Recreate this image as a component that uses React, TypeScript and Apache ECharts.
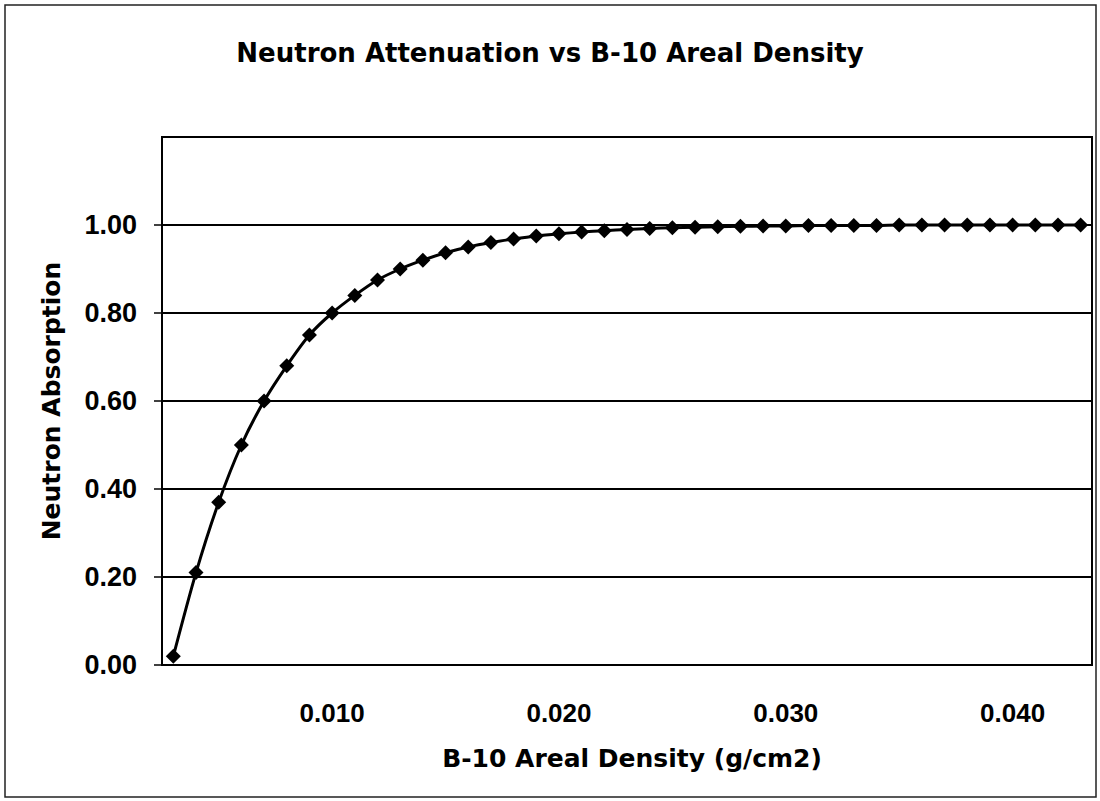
import React, { useEffect, useRef } from "react";
import * as echarts from "echarts";

const TITLE = "Neutron Attenuation vs B-10 Areal Density";
const X_NAME = "B-10 Areal Density (g/cm2)";
const Y_NAME = "Neutron Absorption";

const categories: string[] = [
  "0.003", "0.004", "0.005", "0.006", "0.007", "0.008", "0.009", "0.010",
  "0.011", "0.012", "0.013", "0.014", "0.015", "0.016", "0.017", "0.018",
  "0.019", "0.020", "0.021", "0.022", "0.023", "0.024", "0.025", "0.026",
  "0.027", "0.028", "0.029", "0.030", "0.031", "0.032", "0.033", "0.034",
  "0.035", "0.036", "0.037", "0.038", "0.039", "0.040", "0.041", "0.042",
  "0.043",
];

const absorption: number[] = [
  0.02, 0.21, 0.37, 0.5, 0.6, 0.68, 0.75, 0.8,
  0.84, 0.875, 0.9, 0.92, 0.937, 0.95, 0.96, 0.968,
  0.975, 0.98, 0.984, 0.987, 0.99, 0.992, 0.994, 0.995,
  0.996, 0.997, 0.998, 0.998, 0.999, 0.999, 0.999, 0.999,
  1.0, 1.0, 1.0, 1.0, 1.0, 1.0, 1.0, 1.0,
  1.0,
];

const xTickLabels: string[] = ["0.010", "0.020", "0.030", "0.040"];
const yMin = 0;
const yMax = 1.2;
const yStep = 0.2;

export default function App() {
  const ref = useRef<HTMLDivElement>(null);
  useEffect(() => {
    if (!ref.current) return;
    const chart = echarts.init(ref.current, null, { renderer: "svg" });
    const labelFont = {
      color: "#000",
      fontFamily: "'Liberation Sans', Arial, sans-serif",
      fontWeight: "bold" as const,
    };
    const titleFont = {
      color: "#000",
      fontFamily: "'DejaVu Sans', sans-serif",
      fontWeight: "bold" as const,
    };
    chart.setOption({
      animation: false,
      backgroundColor: "#fff",
      title: {
        text: TITLE,
        left: "center",
        top: 35,
        textStyle: { ...titleFont, fontSize: 26 },
      },
      graphic: [
        {
          type: "rect",
          shape: { x: 5, y: 5, width: 1091, height: 792 },
          style: { fill: "none", stroke: "#222", lineWidth: 1.5 },
          silent: true,
        },
      ],
      grid: { left: 162, right: 8, top: 137, bottom: 136, show: true, borderColor: "#000", borderWidth: 2 },
      xAxis: {
        type: "category",
        data: categories,
        boundaryGap: true,
        name: X_NAME,
        nameLocation: "middle",
        nameGap: 81,
        nameTextStyle: { ...titleFont, fontSize: 25, padding: [0, 0, 0, 10] },
        axisLine: { lineStyle: { color: "#000", width: 2 } },
        axisTick: { interval: 0, length: 8, lineStyle: { color: "#000", width: 1.5 } },
        axisLabel: {
          ...labelFont,
          fontSize: 26,
          margin: 35,
          interval: (_i: number, v: string) => xTickLabels.includes(v),
        },
        splitLine: { show: false },
      },
      yAxis: {
        type: "value",
        min: yMin,
        max: yMax,
        interval: yStep,
        name: Y_NAME,
        nameLocation: "middle",
        nameGap: 98,
        nameTextStyle: { ...titleFont, fontSize: 25 },
        axisLine: { show: true, lineStyle: { color: "#000", width: 2 } },
        axisTick: { show: true, length: 8, lineStyle: { color: "#000", width: 1.5 } },
        axisLabel: {
          ...labelFont,
          fontSize: 27,
          margin: 25,
          showMaxLabel: false,
          formatter: (v: number) => (v >= yMax - 1e-9 ? "" : v.toFixed(2)),
        },
        splitLine: { show: true, lineStyle: { color: "#000", width: 2 } },
      },
      series: [
        {
          type: "line",
          data: absorption,
          smooth: 0.3,
          symbol: "diamond",
          symbolSize: 15,
          itemStyle: { color: "#000" },
          lineStyle: { color: "#000", width: 3 },
        },
      ],
    });
    return () => chart.dispose();
  }, []);
  return (
    <div
      ref={ref}
      style={{ position: "fixed", left: 0, top: 0, width: 1100, height: 801 }}
    />
  );
}
